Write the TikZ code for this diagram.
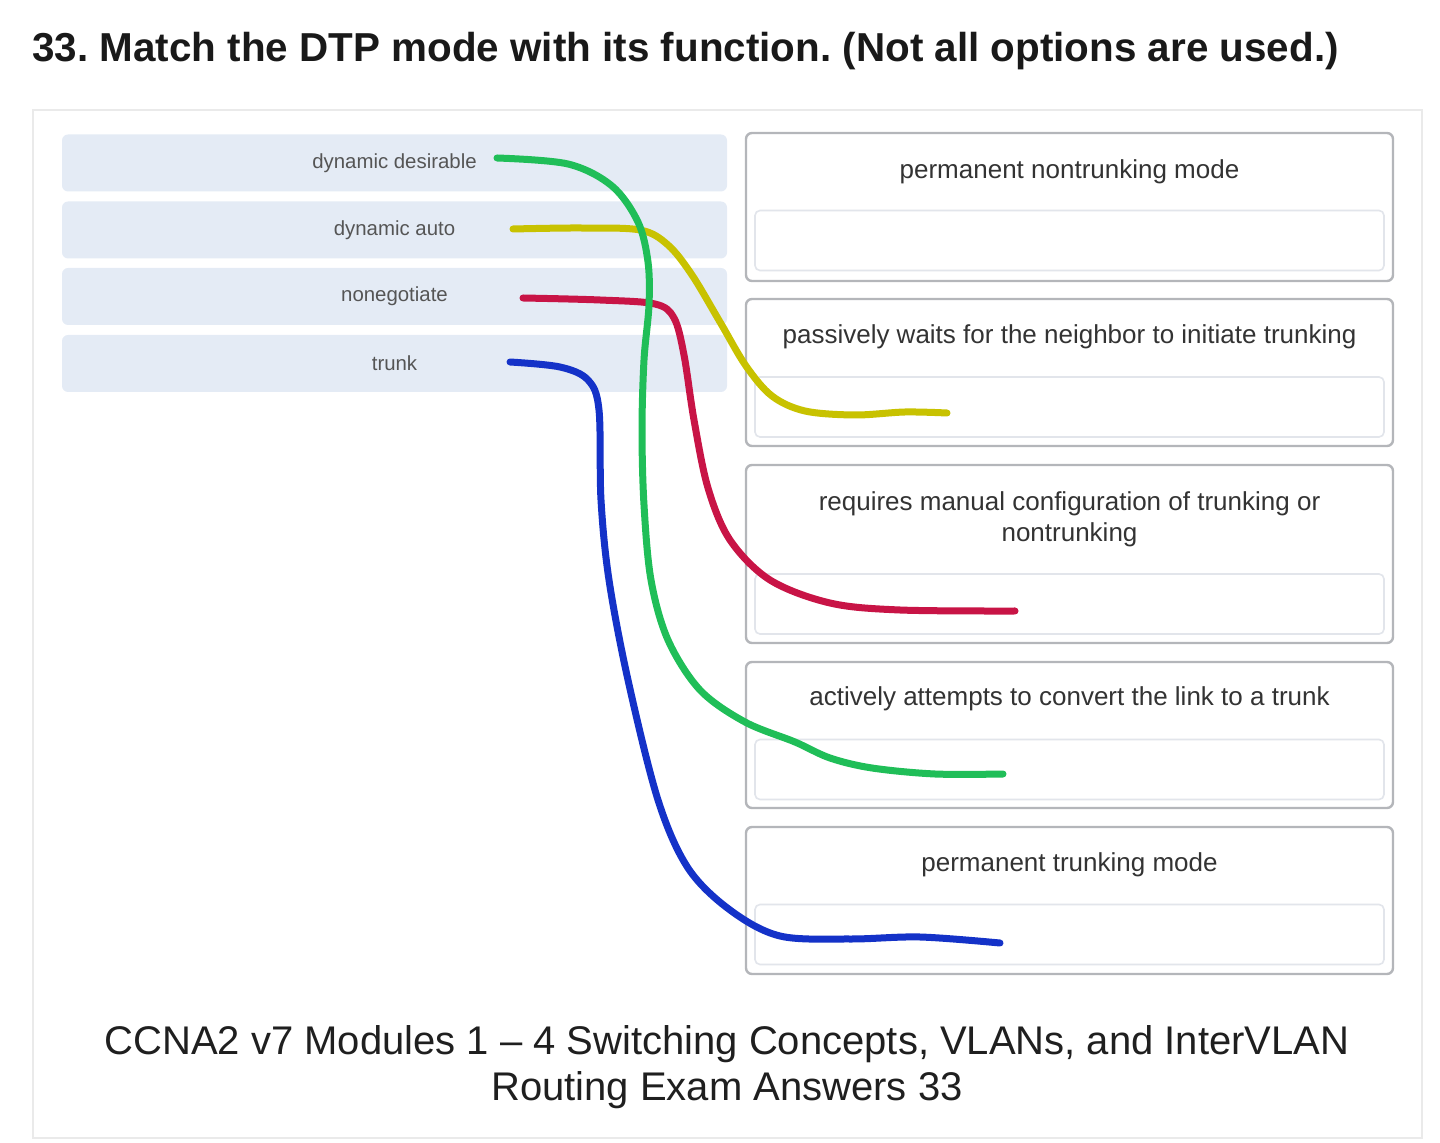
\documentclass[tikz,border=0pt]{standalone}
\usepackage{fontspec}
\setmainfont{Liberation Sans}
\frenchspacing
\definecolor{leftfill}{HTML}{E4EBF5}
\definecolor{lefttext}{HTML}{555555}
\definecolor{righttext}{HTML}{333333}
\definecolor{boxline}{HTML}{B4B6BA}
\definecolor{innerline}{HTML}{E2E5EB}
\definecolor{panelline}{HTML}{EAEAEA}
\definecolor{cgreen}{HTML}{20BE58}
\definecolor{cyellow}{HTML}{C8C200}
\definecolor{cred}{HTML}{C81446}
\definecolor{cblue}{HTML}{1432C8}
\begin{document}
\begin{tikzpicture}[x=0.5pt,y=-0.5pt,
  lbox/.style={draw=none, fill=leftfill, rounded corners=3pt, minimum width=332.5pt, minimum height=28.5pt, inner sep=0pt, font=\fontsize{10.2}{12}\selectfont, text=lefttext},
  obox/.style={draw=boxline, line width=1.2pt, rounded corners=3pt, fill=white, minimum width=323.5pt, inner sep=0pt},
  ibox/.style={draw=innerline, line width=0.8pt, rounded corners=2.5pt, minimum width=314.5pt, minimum height=30pt, inner sep=0pt},
  rtext/.style={font=\fontsize{13}{15.5}\selectfont, text=righttext, align=center, inner sep=0pt},
  wire/.style={line width=3.5pt, line cap=round, line join=round}]
\useasboundingbox (0,0) rectangle (1440,1143);
% title
\node[anchor=west, inner sep=0pt, font=\fontsize{20.2}{24}\bfseries\selectfont, text=black!90] (title) at (32,51) {33. Match the DTP mode with its function. (Not all options are used.)};
% panel
\node[draw=panelline, line width=1pt, minimum width=694.5pt, minimum height=514pt, inner sep=0pt] (panel) at (727.5,624) {};
% left boxes
\node[lbox] (l1) at (394.5,163) {\raisebox{-1pt}{dynamic desirable}};
\node[lbox] (l2) at (394.5,230) {\raisebox{-1pt}{dynamic auto}};
\node[lbox] (l3) at (394.5,296.5) {\raisebox{-1pt}{nonegotiate}};
\node[lbox] (l4) at (394.5,363.5) {\raisebox{-1pt}{trunk}};
% right boxes
\node[obox, minimum height=74pt] (r1) at (1069.5,207) {};
\node[obox, minimum height=73.5pt] (r2) at (1069.5,372.5) {};
\node[obox, minimum height=89pt] (r3) at (1069.5,554) {};
\node[obox, minimum height=73pt] (r4) at (1069.5,735) {};
\node[obox, minimum height=73.5pt] (r5) at (1069.5,900.5) {};
\node[ibox] (i1) at (1069.5,240.5) {};
\node[ibox] (i2) at (1069.5,407) {};
\node[ibox] (i3) at (1069.5,604) {};
\node[ibox] (i4) at (1069.5,769.5) {};
\node[ibox] (i5) at (1069.5,934.5) {};
\node[rtext] (t1) at (1069.5,172) {permanent nontrunking mode};
\node[rtext] (t2) at (1069.5,337) {passively waits for the neighbor to initiate trunking};
\node[rtext] (t3) at (1069.5,519) {requires manual configuration of trunking or\\nontrunking};
\node[rtext] (t4) at (1069.5,699) {actively attempts to convert the link to a trunk};
\node[rtext] (t5) at (1069.5,865) {permanent trunking mode};
% caption
\node[align=center, inner sep=0pt, font=\fontsize{20}{23}\selectfont, text=black!88] (cap) at (727,1067) {CCNA2 v7 Modules 1 -- 4 Switching Concepts, VLANs, and InterVLAN\\Routing Exam Answers 33};
% wire ends
\coordinate (gS) at (497,158);
\coordinate (gE) at (1003,774);
\coordinate (yS) at (513,229);
\coordinate (yE) at (947,413);
\coordinate (rS) at (523,298);
\coordinate (rE) at (1015,611);
\coordinate (bS) at (510,362);
\coordinate (bE) at (1000,943);
% wires
\draw[wire, cyellow] plot[smooth, tension=0.55] coordinates {(yS) (580,228) (640,230) (668,245) (692,275) (720,322) (746,366) (772,396) (805,411) (855,415) (905,412) (yE)};
\draw[wire, cred] plot[smooth, tension=0.55] coordinates {(rS) (600,300) (655,304) (674,318) (684,355) (694,420) (708,488) (730,540) (770,580) (830,603) (900,610) (rE)};
\draw[wire, cgreen] plot[smooth, tension=0.55] coordinates {(gS) (568,164) (612,186) (638,222) (648,262) (649,305) (644,360) (642,430) (644,505) (651,580) (668,640) (700,690) (745,722) (795,742) (830,758) (872,768) (935,774) (gE)};
\draw[wire, cblue] plot[smooth, tension=0.55] coordinates {(bS) (560,367) (588,380) (599,410) (601,500) (609,580) (628,680) (658,800) (688,868) (730,910) (780,936) (850,939) (920,937) (bE)};
\end{tikzpicture}
\end{document}
